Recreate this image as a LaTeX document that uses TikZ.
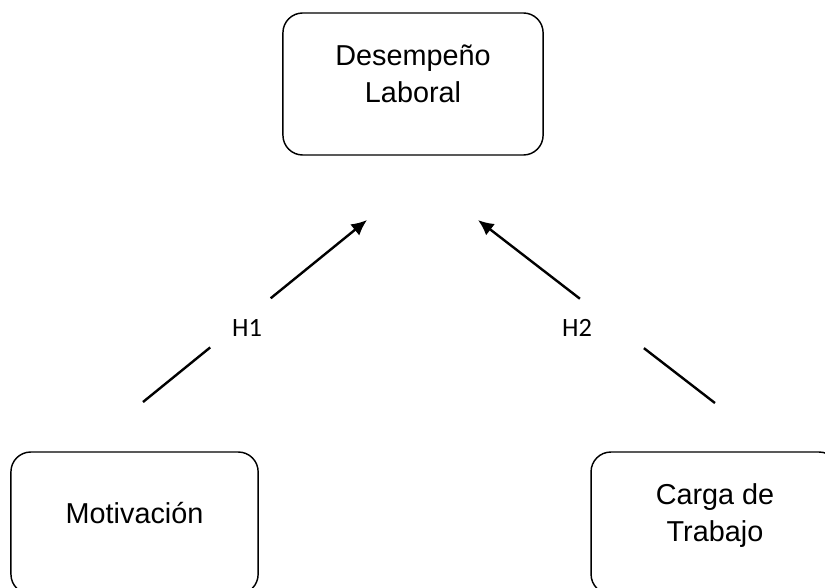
\documentclass[tikz,border=0pt]{standalone}
\usepackage{fontspec}
\setmainfont{Liberation Sans}
\newfontfamily\hypfont{Carlito}
\usetikzlibrary{arrows.meta}
\usetikzlibrary{calc}

\newcommand{\topstrut}{\rule{0pt}{10pt}}
\newcommand{\botstrut}{\rule[-10pt]{0pt}{10pt}}

\begin{document}
\begin{tikzpicture}[
        varbox/.style={draw, line width=0.6pt, rounded corners=0.29cm, minimum height=2.08cm,
            align=center, inner sep=0pt, font=\fontsize{12}{15.4}\selectfont},
        link/.style={line width=1pt},
        hyp/.style={font=\hypfont\fontsize{11}{13}\selectfont, inner sep=0pt}
    ]
        \useasboundingbox (0,0) rectangle (12.081,8.596);
        \clip (0,0) rectangle (12.081,8.596);

        % dependent variable (top)
        \node[varbox, minimum width=3.81cm] (desempeno) at (6.048,7.366)
            {\topstrut Desempeño\\Laboral\botstrut};

        % independent variables (bottom)
        \node[varbox, minimum width=3.62cm] (motivacion) at (1.970,0.937)
            {\topstrut Motivación\botstrut};
        \node[varbox, minimum width=3.63cm] (carga) at (10.470,0.937)
            {\topstrut Carga de\\Trabajo\botstrut};

        % H1
        \coordinate (h1s) at (2.094,2.709);
        \coordinate (h1e) at (5.374,5.374);
        \draw[link] (h1s) -- ($(h1s)!0.30!(h1e)$);
        \draw[link, -{Latex[length=6.5pt,width=6pt]}] ($(h1s)!0.57!(h1e)$) -- (h1e);
        \node[hyp] (h1) at (3.617,3.793) {H1};

        % H2
        \coordinate (h2s) at (10.470,2.694);
        \coordinate (h2e) at (7.000,5.374);
        \draw[link] (h2s) -- ($(h2s)!0.30!(h2e)$);
        \draw[link, -{Latex[length=6.5pt,width=6pt]}] ($(h2s)!0.57!(h2e)$) -- (h2e);
        \node[hyp] (h2) at (8.450,3.793) {H2};

    \end{tikzpicture}
\end{document}
